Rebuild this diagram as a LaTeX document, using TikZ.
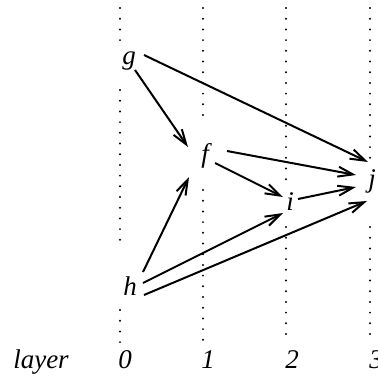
\documentclass[tikz,border=0pt]{standalone}
\usepackage{fontspec}
\setmainfont{Liberation Serif}
\usetikzlibrary{arrows.meta}
\begin{document}
\begin{tikzpicture}[x=1pt,y=-1pt,
  lbl/.style={inner sep=0pt,font=\fontsize{27}{30}\selectfont\itshape},
  guide/.style={line width=2.2pt,line cap=round,dash pattern=on 0pt off 10.7pt},
  arr/.style={line width=2pt,-{Straight Barb[length=15pt,width=10pt]}}]
\useasboundingbox (0,0) rectangle (378,389);
% dotted layer lines
\draw[guide] (120,8) -- (120,42);
\draw[guide] (120,90) -- (120,250);
\draw[guide] (120,310) -- (120,343);
\draw[guide] (203,8) -- (203,125);
\draw[guide] (203,190) -- (203,343);
\draw[guide] (286,8) -- (286,182);
\draw[guide] (286,227) -- (286,343);
\draw[guide] (370,8) -- (370,158);
\draw[guide] (370,227) -- (370,343);
% nodes
\node[lbl] (g) at (129,61) {g};
\node[lbl] (f) at (205,156) {f};
\node[lbl] (i) at (290,202) {i};
\node[lbl] (j) at (372,181) {j};
\node[lbl] (h) at (130,286) {h};
% layer labels
\node[lbl,anchor=base] (lay) at (41,368) {layer};
\node[lbl,anchor=base] (l0) at (125,368) {0};
\node[lbl,anchor=base] (l1) at (208,368) {1};
\node[lbl,anchor=base] (l2) at (292,368) {2};
\node[lbl,anchor=base] (l3) at (376,368) {3};
% arrows
\draw[arr] ([shift={(15,-6)}]g.center) -- ([shift={(-4,-19)}]j.center);
\draw[arr] ([shift={(6,9)}]g.center) -- ([shift={(-17,-9)}]f.center);
\draw[arr] ([shift={(22,-5)}]f.center) -- ([shift={(-16,-6)}]j.center);
\draw[arr] ([shift={(10,7)}]f.center) -- ([shift={(-7,-5)}]i.center);
\draw[arr] ([shift={(8,-3)}]i.center) -- ([shift={(-16,6)}]j.center);
\draw[arr] ([shift={(13,-14)}]h.center) -- ([shift={(-16,21)}]f.center);
\draw[arr] ([shift={(13,-3)}]h.center) -- ([shift={(-7,11)}]i.center);
\draw[arr] ([shift={(14,9)}]h.center) -- ([shift={(-5,20)}]j.center);
\end{tikzpicture}
\end{document}
